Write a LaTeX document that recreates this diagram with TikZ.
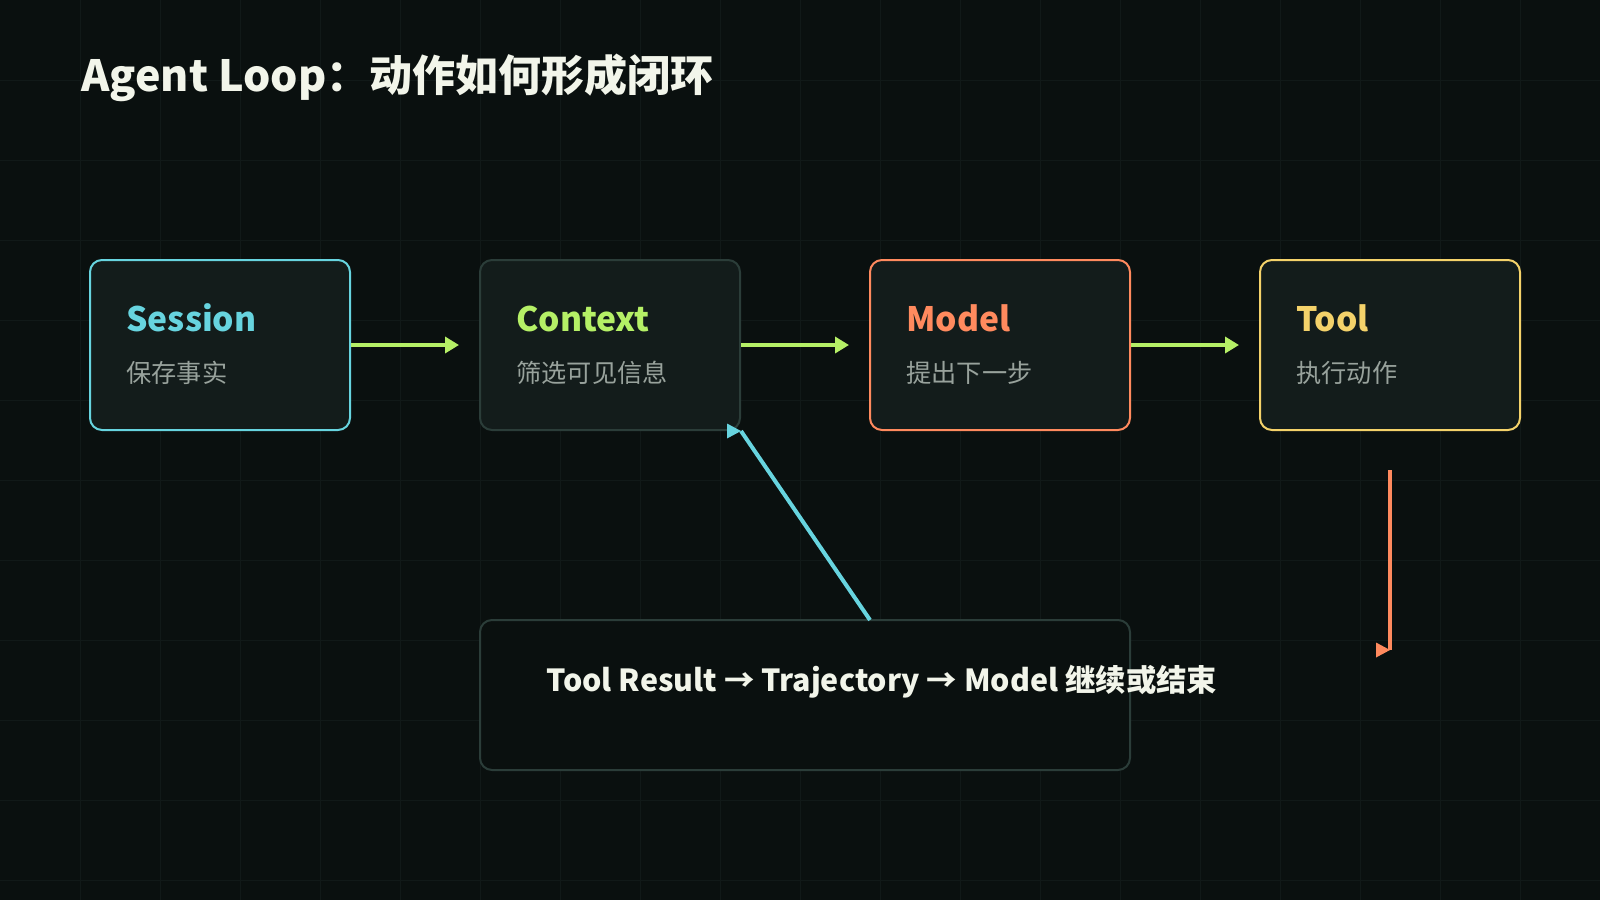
\documentclass[tikz,border=0pt]{standalone}
\usepackage{fontspec}
\setmainfont{Noto Sans CJK SC}
\usetikzlibrary{arrows.meta}

\definecolor{bgc}{HTML}{0A100F}
\definecolor{gridc}{HTML}{111918}
\definecolor{boxc}{HTML}{131C1B}
\definecolor{dimc}{HTML}{2B3D39}
\definecolor{cyanc}{HTML}{67D4DF}
\definecolor{limec}{HTML}{B5F066}
\definecolor{coralc}{HTML}{FF8A5E}
\definecolor{goldc}{HTML}{F4D26A}
\definecolor{subc}{HTML}{98A29C}
\definecolor{inkc}{HTML}{F2F5EA}

\tikzset{
  stepbox/.style={draw, line width=1pt, rounded corners=6pt, fill=boxc,
    minimum width=130pt, minimum height=85pt, inner sep=0pt},
  head/.style={anchor=base west, inner sep=0pt,
    font=\fontsize{16.8pt}{20pt}\selectfont\bfseries},
  sub/.style={anchor=base west, inner sep=0pt, text=subc,
    font=\fontsize{12.6pt}{15pt}\selectfont},
  flow/.style={draw=limec, line width=2pt, -{Triangle[length=7pt,width=8pt]}},
  gridline/.style={draw=gridc, line width=0.5pt},
}
% arrow heads of the loop always point to the right
\newcommand{\tipR}[2]{\fill[#1] (#2) -- ++(-14,-7.5) -- ++(0,15) -- cycle;}

\begin{document}
\begin{tikzpicture}[x=0.5pt,y=-0.5pt]
  \useasboundingbox (0,0) rectangle (1600,900);
  \fill[bgc] (0,0) rectangle (1600,900);
  \foreach \x in {80,160,...,1520}
    \draw[gridline] (\x,0) -- (\x,900);
  \foreach \y in {80,160,...,880}
    \draw[gridline] (0,\y) -- (1600,\y);

  \node[anchor=base west, inner sep=0pt, text=inkc,
    font=\fontsize{21.5pt}{26pt}\selectfont\bfseries] (title) at (81,91)
    {Agent Loop：动作如何形成闭环};

  % the four stages
  \node[stepbox, draw=cyanc] (session) at (220,345) {};
  \node[stepbox, draw=dimc] (context) at (610,345) {};
  \node[stepbox, draw=coralc] (model) at (1000,345) {};
  \node[stepbox, draw=goldc] (tool) at (1390,345) {};

  \node[head, text=cyanc] (sessionhead) at (126,331) {Session};
  \node[sub] (sessionsub) at (126,382) {保存事实};
  \node[head, text=limec] (contexthead) at (516,331) {Context};
  \node[sub] (contextsub) at (516,382) {筛选可见信息};
  \node[head, text=coralc] (modelhead) at (906,331) {Model};
  \node[sub] (modelsub) at (906,382) {提出下一步};
  \node[head, text=goldc] (toolhead) at (1296,331) {Tool};
  \node[sub] (toolsub) at (1296,382) {执行动作};

  \draw[flow] (session.east) -- ([xshift=-10pt]context.west);
  \draw[flow] (context.east) -- ([xshift=-10pt]model.west);
  \draw[flow] (model.east) -- ([xshift=-10pt]tool.west);

  % feedback
  \node[draw=dimc, line width=1pt, rounded corners=6pt, fill=bgc,
    minimum width=325pt, minimum height=75pt] (result) at (805,695) {};
  \node[anchor=base west, inner sep=0pt, text=inkc,
    font=\fontsize{15.2pt}{18pt}\selectfont\bfseries] (resulttext) at (546,691)
    {Tool Result → Trajectory → Model 继续或结束};

  \coordinate (fromresult) at (870,620);
  \draw[cyanc, line width=2pt] (fromresult) -- (context.south east);
  \tipR{cyanc}{context.south east}

  \coordinate (toolout) at (1390,470);
  \coordinate (toolend) at (1390,650);
  \draw[coralc, line width=2pt] (toolout) -- (toolend);
  \tipR{coralc}{toolend}
\end{tikzpicture}
\end{document}
